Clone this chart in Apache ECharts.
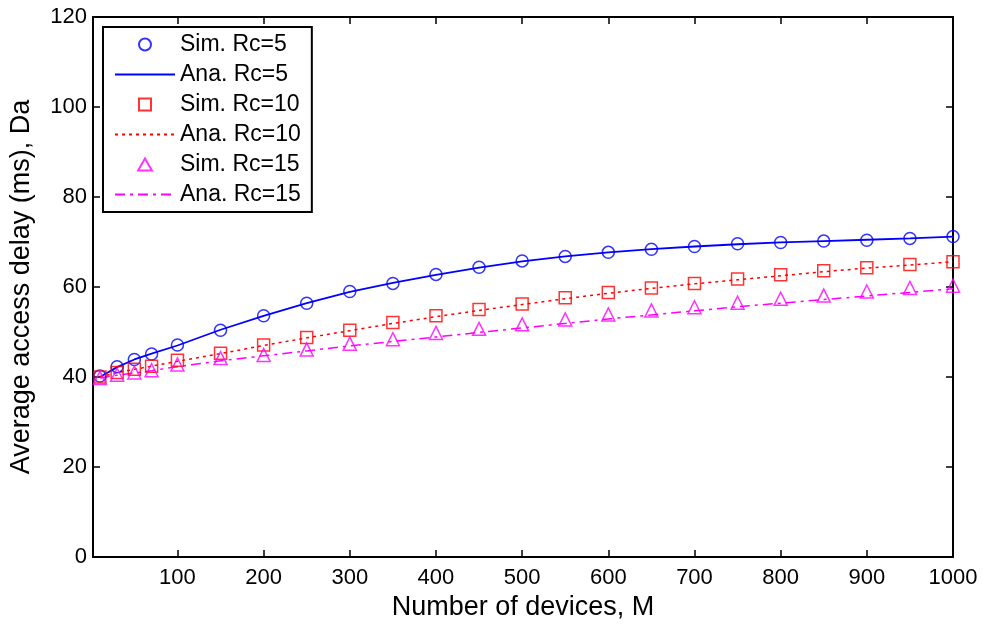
<!DOCTYPE html>
<html><head><meta charset="utf-8">
<script src="https://cdn.jsdelivr.net/npm/echarts@6/dist/echarts.min.js"></script>
<style>html,body{margin:0;padding:0;background:#fff}#c{width:983px;height:628px}</style>
</head><body><div id="c"></div>
<script>
const devices = [10, 30, 50, 70, 100, 150, 200, 250, 300, 350, 400, 450, 500, 550, 600, 650, 700, 750, 800, 850, 900, 950, 1000];
const simRc5  = [40.2, 42.3, 43.9, 45.1, 47.1, 50.4, 53.6, 56.4, 59.0, 60.8, 62.8, 64.4, 65.8, 66.8, 67.7, 68.4, 69.0, 69.6, 69.9, 70.2, 70.4, 70.8, 71.2];
const anaRc5  = [40.0, 42.2, 43.9, 45.2, 47.0, 50.5, 53.6, 56.4, 58.9, 60.9, 62.7, 64.3, 65.7, 66.8, 67.7, 68.4, 69.0, 69.5, 69.9, 70.2, 70.5, 70.8, 71.2];
const simRc10 = [40.0, 41.0, 41.7, 42.4, 43.7, 45.3, 47.1, 48.8, 50.4, 52.1, 53.6, 55.0, 56.2, 57.6, 58.8, 59.8, 60.8, 61.8, 62.7, 63.6, 64.3, 65.0, 65.6];
const anaRc10 = [40.0, 41.0, 41.7, 42.4, 43.5, 45.2, 47.0, 48.7, 50.3, 51.9, 53.4, 54.8, 56.1, 57.4, 58.6, 59.7, 60.7, 61.6, 62.5, 63.4, 64.2, 64.9, 65.6];
const simRc15 = [39.8, 40.5, 41.0, 41.5, 42.8, 44.2, 44.9, 46.1, 47.4, 48.4, 49.8, 50.7, 51.7, 52.8, 53.9, 54.8, 55.5, 56.5, 57.4, 58.1, 59.0, 59.8, 60.3];
const anaRc15 = [39.8, 40.4, 40.9, 41.4, 42.3, 43.6, 44.7, 45.8, 46.9, 47.9, 48.9, 49.9, 50.9, 51.9, 52.9, 53.8, 54.7, 55.6, 56.4, 57.2, 58.0, 58.8, 59.6];
const xTicks = [100, 200, 300, 400, 500, 600, 700, 800, 900, 1000];
const seriesNames = ['Sim. Rc=5', 'Ana. Rc=5', 'Sim. Rc=10', 'Ana. Rc=10', 'Sim. Rc=15', 'Ana. Rc=15'];

const FONT = 'Liberation Sans, Arial, sans-serif';
const pair = (ys) => devices.map((x, i) => [x, ys[i]]);
const BLUE = '#0000ff', RED = '#ff0000', MAG = '#ff00ff';

const axisLine = { show: true, onZero: false, lineStyle: { color: '#000', width: 2 } };
const tickStyle = { color: '#000', width: 1.5 };
const plain = (v) => String(v);

const option = {
  backgroundColor: '#fff',
  animation: false,
  grid: { left: 93, right: 30, top: 17, bottom: 71, containLabel: false, outerBoundsMode: 'none' },
  xAxis: [
    {
      type: 'value', min: 2, max: 1000, position: 'bottom',
      axisLine,
      axisTick: { show: true, inside: true, length: 7, customValues: xTicks, lineStyle: tickStyle },
      axisLabel: { customValues: xTicks, formatter: plain, fontSize: 22, color: '#000', margin: 10, fontFamily: FONT },
      splitLine: { show: false },
      name: 'Number of devices, M', nameLocation: 'middle', nameGap: 36,
      nameTextStyle: { fontSize: 27, color: '#000', fontFamily: FONT }
    },
    {
      type: 'value', min: 2, max: 1000, position: 'top',
      axisLine,
      axisTick: { show: true, inside: true, length: 7, customValues: xTicks, lineStyle: tickStyle },
      axisLabel: { show: false },
      splitLine: { show: false }
    }
  ],
  yAxis: [
    {
      type: 'value', min: 0, max: 120, interval: 20, position: 'left',
      axisLine,
      axisTick: { show: true, inside: true, length: 7, lineStyle: tickStyle },
      axisLabel: { formatter: plain, fontSize: 22, color: '#000', margin: 6, fontFamily: FONT },
      splitLine: { show: false },
      name: 'Average access delay (ms), Da', nameLocation: 'middle', nameGap: 58,
      nameTextStyle: { fontSize: 27, color: '#000', fontFamily: FONT }
    },
    {
      type: 'value', min: 0, max: 120, interval: 20, position: 'right',
      axisLine,
      axisTick: { show: true, inside: true, length: 7, lineStyle: tickStyle },
      axisLabel: { show: false },
      splitLine: { show: false }
    }
  ],
  legend: {
    orient: 'vertical', left: 103, top: 27,
    data: [
      { name: seriesNames[0], icon: 'path://M6,0A6,6,0,1,1,5.99,0Z' },
      { name: seriesNames[1], itemStyle: { opacity: 0 } },
      { name: seriesNames[2], icon: 'path://M0,0L10,0L10,10L0,10Z' },
      { name: seriesNames[3], itemStyle: { opacity: 0 } },
      { name: seriesNames[4], icon: 'path://M5,0L10,8.7L0,8.7Z' },
      { name: seriesNames[5], itemStyle: { opacity: 0 } }
    ],
    selectedMode: false,
    symbolKeepAspect: true,
    itemWidth: 60, itemHeight: 12, itemGap: 7,
    padding: [6, 11, 6, 11],
    borderColor: '#000', borderWidth: 2, backgroundColor: '#fff',
    textStyle: { fontSize: 23, lineHeight: 23, color: '#000', fontFamily: FONT }
  },
  series: [
    {
      name: seriesNames[0], type: 'scatter', data: pair(simRc5),
      symbol: 'circle', symbolSize: 12,
      itemStyle: { color: 'transparent', borderColor: BLUE, borderWidth: 1.5 }, z: 3
    },
    {
      name: seriesNames[1], type: 'line', data: pair(anaRc5), symbol: 'none',
      lineStyle: { color: BLUE, width: 1.8, type: 'solid' }, itemStyle: { color: BLUE }
    },
    {
      name: seriesNames[2], type: 'scatter', data: pair(simRc10),
      symbol: 'rect', symbolSize: 12,
      itemStyle: { color: 'transparent', borderColor: RED, borderWidth: 1.5 }, z: 3
    },
    {
      name: seriesNames[3], type: 'line', data: pair(anaRc10), symbol: 'none',
      lineStyle: { color: RED, width: 1.5, type: [3, 4] }, itemStyle: { color: RED }
    },
    {
      name: seriesNames[4], type: 'scatter', data: pair(simRc15),
      symbol: 'triangle', symbolSize: 13,
      itemStyle: { color: 'transparent', borderColor: MAG, borderWidth: 1.5 }, z: 3
    },
    {
      name: seriesNames[5], type: 'line', data: pair(anaRc15), symbol: 'none',
      lineStyle: { color: MAG, width: 1.5, type: [10, 5, 3, 5] }, itemStyle: { color: MAG }
    }
  ]
};
const chart = echarts.init(document.getElementById('c'), null, { renderer: 'canvas' });
chart.setOption(option);
</script></body></html>
